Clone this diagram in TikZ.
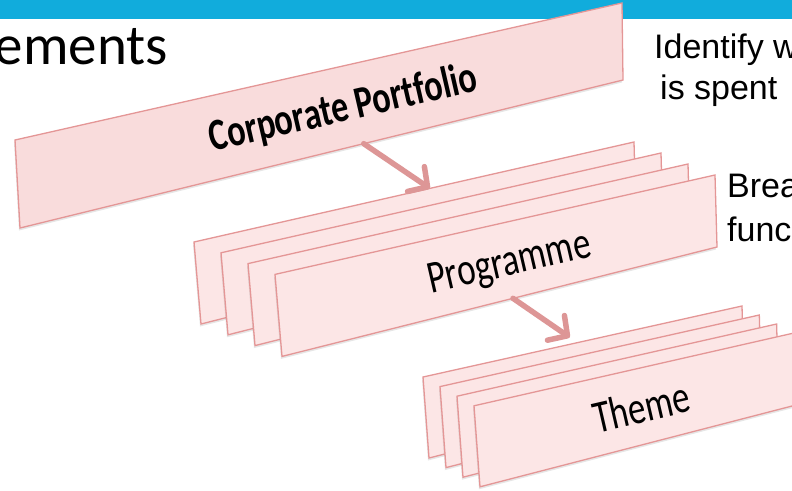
\documentclass[tikz,border=0pt]{standalone}
\usepackage{fontspec}
\setmainfont{Liberation Sans}
\newfontfamily\calibri[Ligatures=NoCommon]{Carlito}
\usetikzlibrary{arrows.meta,calc,shadows}

\definecolor{slideblue}{RGB}{17,172,220}
\definecolor{cardfill}{RGB}{252,230,230}
\definecolor{corpfill}{RGB}{249,220,220}
\definecolor{cardline}{RGB}{228,150,150}
\definecolor{linkpink}{RGB}{221,150,150}

\newcommand\squeezed[1]{\scalebox{0.76}[1]{#1}}

\tikzset{
  card/.style={fill=cardfill, draw=cardline, line width=1.3pt,
    drop shadow={opacity=0.2, shadow xshift=-1pt, shadow yshift=-2.5pt}},
  cardtext/.style={font=\calibri\fontsize{46}{50}\selectfont, rotate=13,
    anchor=base, inner sep=0pt},
  link/.style={draw=linkpink, line width=5.5pt, line cap=round,
    -{Straight Barb[length=14pt,width=30pt,line cap=round,line join=round]}},
  note/.style={font=\fontsize{34}{40}\selectfont, anchor=base west, inner sep=0pt},
}

\begin{document}
\begin{tikzpicture}[x=1pt,y=-1pt]
            \useasboundingbox (0,0) rectangle (792,490);
            \clip (0,0) rectangle (792,490);
            % slide header
            \fill[slideblue] (0,0) rectangle (792,19);
            \node[font=\calibri\fontsize{57}{60}\selectfont, anchor=base east, inner sep=0pt] (title) at (168,64) {ements};

            % corporate portfolio
            \coordinate (corp-tl) at (15,140);
            \coordinate (corp-tr) at (622,3);
            \coordinate (corp-br) at (623,80);
            \coordinate (corp-bl) at (20,228);
            \filldraw[card, fill=corpfill] (corp-tl) -- (corp-tr) -- (corp-br) -- (corp-bl) -- cycle;
            \node[cardtext, font=\calibri\bfseries\fontsize{45}{50}\selectfont] (corp) at (346,121) {\squeezed{Corporate Portfolio}};

            % programme stack
            \foreach \i in {0,...,3} {
                \coordinate (prog\i-tl) at (194+27*\i,242+10.8*\i);
                \coordinate (prog\i-tr) at (634+27*\i,142+11*\i);
                \coordinate (prog\i-br) at ($(prog\i-tr)+(2,72)$);
                \coordinate (prog\i-bl) at ($(prog\i-tl)+(7,82)$);
                \filldraw[card] (prog\i-tl) -- (prog\i-tr) -- (prog\i-br) -- (prog\i-bl) -- cycle;
            }
            \node[cardtext] (prog) at (512,275) {\squeezed{Programme}};

            % theme stack
            \foreach \i in {0,...,3} {
                \coordinate (thm\i-tl) at (423+17*\i,377+9.6*\i);
                \coordinate (thm\i-tr) at (742+17.3*\i,306+9*\i);
                \coordinate (thm\i-br) at ($(thm\i-tr)+(2,72)$);
                \coordinate (thm\i-bl) at ($(thm\i-tl)+(6,81)$);
                \filldraw[card] (thm\i-tl) -- (thm\i-tr) -- (thm\i-br) -- (thm\i-bl) -- cycle;
            }
            \node[cardtext] (thm) at (645,422) {\squeezed{Theme}};

            % links between levels
            \coordinate (corp-out) at ($(corp-bl)!0.57!(corp-br)$);
            \coordinate (prog-in) at ($(prog0-tl)!0.536!(prog0-tr)$);
            \coordinate (prog-out) at ($(prog3-bl)!0.531!(prog3-br)$);
            \coordinate (thm-in) at ($(thm0-tl)!0.46!(thm0-tr)+(0,-7)$);
            \draw[link] (corp-out) -- (prog-in);
            \draw[link] (prog-out) -- (thm-in);

            % notes on the right
            \node[note] (spendA) at (654,58) {Identify w};
            \node[note] (spendB) at (660,99) {is spent};
            \node[note] (breakA) at (727,197) {Brea};
            \node[note] (breakB) at (727,241) {func};
        \end{tikzpicture}
\end{document}
